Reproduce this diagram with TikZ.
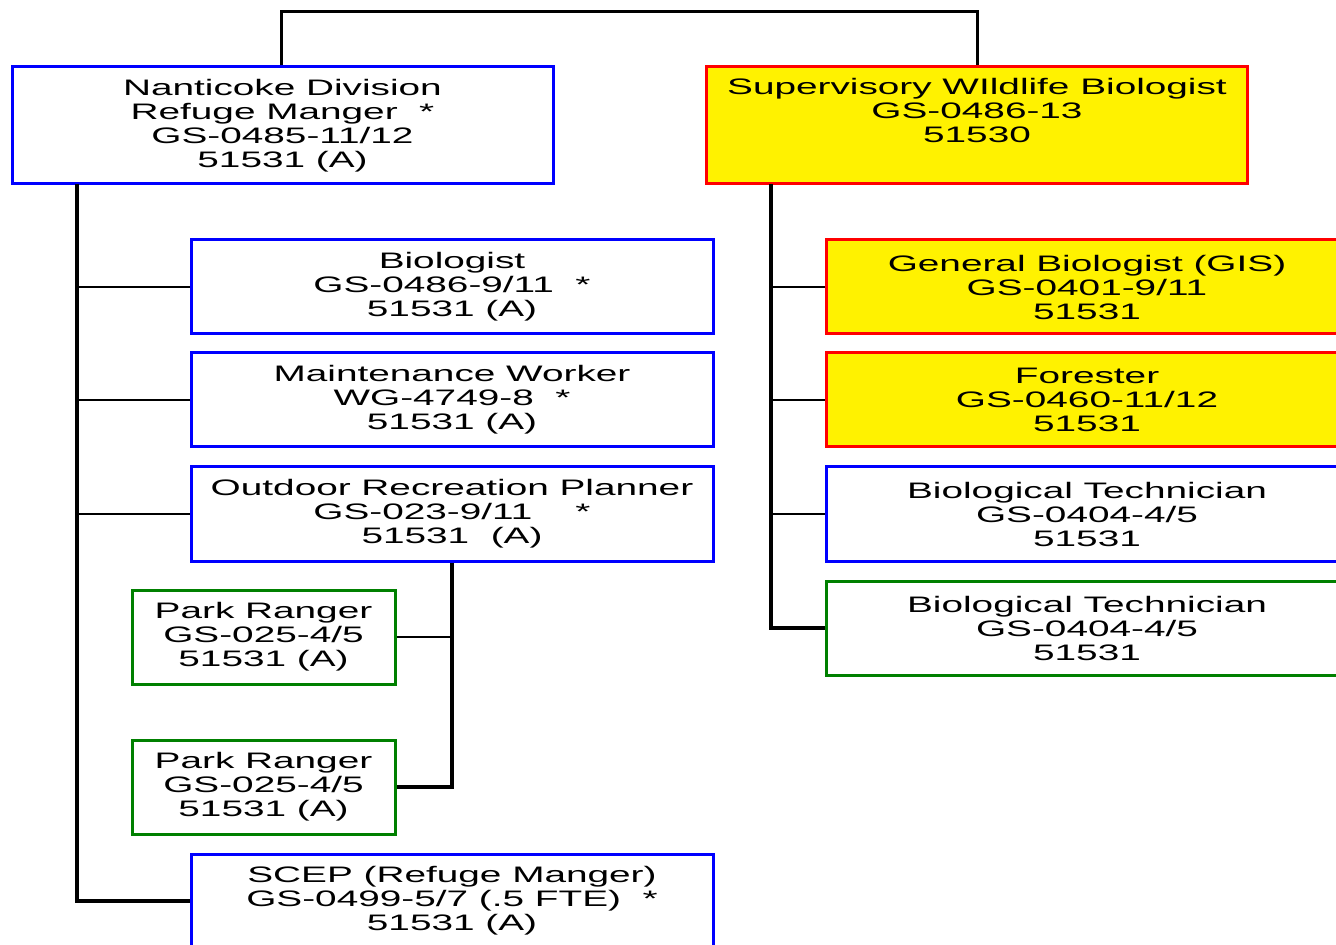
\documentclass[tikz,border=0pt]{standalone}
\usepackage{fontspec}
\setmainfont{Liberation Sans}[FakeStretch=1.73]
\usepackage{tikz}

\definecolor{chartgreen}{RGB}{0,128,0}

\begin{document}
\begin{tikzpicture}[x=0.5pt, y=-0.5pt,
  post/.style={rectangle, line width=1.5pt, align=center, inner sep=0pt,
    font=\fontsize{11.2}{12}\selectfont},
  topbox/.style={post, minimum width=270.5pt, minimum height=58.5pt},
  subbox/.style={post, minimum width=261pt, minimum height=47pt},
  rangerbox/.style={post, minimum width=131.5pt, minimum height=47pt},
  spine/.style={line width=2pt},
  twig/.style={line width=1pt}]

\useasboundingbox (0, 0) rectangle (1336, 945);
\clip (0, 0) rectangle (1336, 945);

\node[topbox, draw=blue] (nanticoke) at (282.5, 125.5)
  {Nanticoke Division\\Refuge Manger~~*\\GS-0485-11/12\\51531 (A)};
\node[topbox, draw=red, fill=yellow] (swb) at (977, 125.5)
  {Supervisory WIldlife Biologist\\GS-0486-13\\51530\\\strut};

\node[subbox, draw=blue] (bio) at (452, 287) {Biologist\\GS-0486-9/11~~*\\51531 (A)};
\node[subbox, draw=blue] (maint) at (452, 400) {Maintenance Worker\\WG-4749-8~~*\\51531 (A)};
\node[subbox, draw=blue] (orp) at (452, 514) {Outdoor Recreation Planner\\GS-023-9/11~~~~*\\51531~~(A)};
\node[rangerbox, draw=chartgreen] (ranger1) at (263.5, 637) {Park Ranger\\GS-025-4/5\\51531 (A)};
\node[rangerbox, draw=chartgreen] (ranger2) at (263.5, 787) {Park Ranger\\GS-025-4/5\\51531 (A)};
\node[subbox, draw=blue] (scep) at (452, 901) {SCEP (Refuge Manger)\\GS-0499-5/7 (.5 FTE)~~*\\51531 (A)};

\node[subbox, draw=red, fill=yellow] (gis) at (1087, 287) {General Biologist (GIS)\\GS-0401-9/11\\51531};
\node[subbox, draw=red, fill=yellow] (forester) at (1087, 400) {Forester\\GS-0460-11/12\\51531};
\node[subbox, draw=blue] (tech1) at (1087, 514) {Biological Technician\\GS-0404-4/5\\51531};
\node[subbox, draw=chartgreen] (tech2) at (1087, 628) {Biological Technician\\GS-0404-4/5\\51531};

% top link
\coordinate (toprail) at (281, 12);
\draw[line width=1.5pt] (nanticoke.north -| toprail) |- (toprail) -| (swb.north);

% left column
\coordinate (lspine) at (77, 184);
\draw[spine] (lspine) |- (scep.west);
\foreach \n in {bio, maint, orp}
  \draw[twig] (\n.west) -- (\n.west -| lspine);

\draw[spine] (orp.south) |- (ranger2.east);
\draw[twig] (ranger1.east) -- (ranger1.east -| orp.south);

% right column
\coordinate (rspine) at (771, 184);
\draw[spine] (rspine) |- (tech2.west);
\foreach \n in {gis, forester, tech1}
  \draw[twig] (\n.west) -- (\n.west -| rspine);

\end{tikzpicture}
\end{document}
